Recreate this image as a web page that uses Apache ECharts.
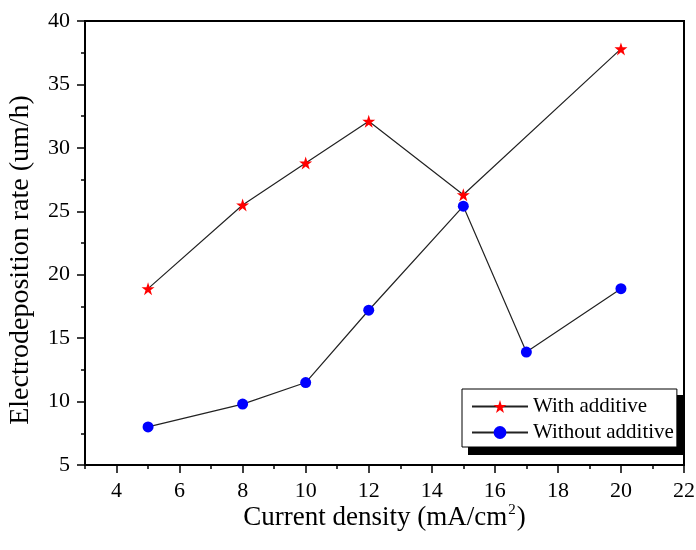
<!DOCTYPE html>
<html>
<head>
<meta charset="utf-8">
<script src="https://cdn.jsdelivr.net/npm/echarts@6/dist/echarts.min.js"></script>
<style>
  html, body { margin: 0; padding: 0; background: #fff; }
  #chart { width: 696px; height: 550px; }
</style>
</head>
<body>
<div id="chart"></div>
<script>
// Current density (mA/cm2) and electrodeposition rate (um/h)
const densityWith = [5, 8, 10, 12, 15, 20];
const rateWith = [18.9, 25.5, 28.8, 32.1, 26.3, 37.8];
const densityWithout = [5, 8, 10, 12, 15, 17, 20];
const rateWithout = [8.0, 9.8, 11.5, 17.2, 25.4, 13.9, 18.9];
const seriesNames = ['With additive', 'Without additive'];
const xMajorTicks = [4, 6, 8, 10, 12, 14, 16, 18, 20, 22];

const FONT = '"Liberation Serif", "Times New Roman", serif';

function pairs(xs, ys) {
  return xs.map((x, i) => [x, ys[i]]);
}

const chart = echarts.init(document.getElementById('chart'), null, { renderer: 'canvas' });

const option = {
  backgroundColor: '#ffffff',
  animation: false,
  textStyle: { fontFamily: FONT, color: '#000' },
  grid: {
    left: 85, right: 12, top: 21, bottom: 85,
    outerBoundsMode: 'none',
    show: true, borderColor: '#000', borderWidth: 2, backgroundColor: 'transparent'
  },
  xAxis: [
    {
      // minor ticks at every unit
      type: 'value', min: 3, max: 22, interval: 1,
      axisLine: { show: true, lineStyle: { color: '#000', width: 2 } },
      axisTick: { show: true, inside: false, length: 4, lineStyle: { color: '#000', width: 1.5 } },
      axisLabel: { show: false },
      splitLine: { show: false },
      name: 'Current density (mA/cm{sup|2})',
      nameLocation: 'middle', nameGap: 38,
      nameTextStyle: {
        fontFamily: FONT, fontSize: 27, color: '#000',
        rich: { sup: { fontFamily: FONT, fontSize: 15, color: '#000', verticalAlign: 'bottom', padding: [0, 1, 14, 1] } }
      }
    },
    {
      // major ticks and labels at even values
      type: 'value', min: 3, max: 22, position: 'bottom', gridIndex: 0,
      axisLine: { show: false },
      axisTick: { show: true, inside: false, length: 8, customValues: xMajorTicks,
                  lineStyle: { color: '#000', width: 1.5 } },
      axisLabel: { show: true, customValues: xMajorTicks, margin: 15,
                   fontFamily: FONT, fontSize: 22, color: '#000' },
      splitLine: { show: false }
    }
  ],
  yAxis: {
    type: 'value', min: 5, max: 40, interval: 5,
    axisLine: { show: true, lineStyle: { color: '#000', width: 2 } },
    axisTick: { show: true, inside: false, length: 8, lineStyle: { color: '#000', width: 1.5 } },
    minorTick: { show: true, splitNumber: 2, length: 4, lineStyle: { color: '#000', width: 1.5 } },
    axisLabel: { margin: 15, fontFamily: FONT, fontSize: 22, color: '#000' },
    splitLine: { show: false },
    name: 'Electrodeposition rate (um/h)',
    nameLocation: 'middle', nameGap: 50, nameRotate: 90,
    nameTextStyle: { fontFamily: FONT, fontSize: 28, color: '#000', padding: [0, 34, 0, 0] }
  },
  legend: {
    left: 462, top: 389,
    orient: 'vertical',
    data: seriesNames,
    itemWidth: 56, itemHeight: 16, itemGap: 5,
    padding: [7, 3, 4, 9],
    backgroundColor: '#ffffff',
    borderColor: '#000', borderWidth: 1,
    textStyle: { fontFamily: FONT, fontSize: 21, color: '#000' },
    z: 10
  },
  graphic: [
    {
      // drop shadow behind the legend box
      type: 'rect', z: 5,
      shape: { x: 468, y: 395, width: 217, height: 60 },
      style: { fill: '#000' }
    }
  ],
  series: [
    {
      name: seriesNames[0], type: 'line',
      data: pairs(densityWith, rateWith),
      symbol: 'path://M50,0 L61.8,35.4 L99,35.4 L69,57.3 L80.3,92.7 L50,70.8 L19.7,92.7 L31,57.3 L1,35.4 L38.2,35.4 Z',
      symbolSize: 13,
      itemStyle: { color: '#ff0000' },
      lineStyle: { color: '#222', width: 1.2 },
      z: 3
    },
    {
      name: seriesNames[1], type: 'line',
      data: pairs(densityWithout, rateWithout),
      symbol: 'circle', symbolSize: 11,
      itemStyle: { color: '#0000ff' },
      lineStyle: { color: '#222', width: 1.2 },
      z: 3
    }
  ]
};

chart.setOption(option);
</script>
</body>
</html>
